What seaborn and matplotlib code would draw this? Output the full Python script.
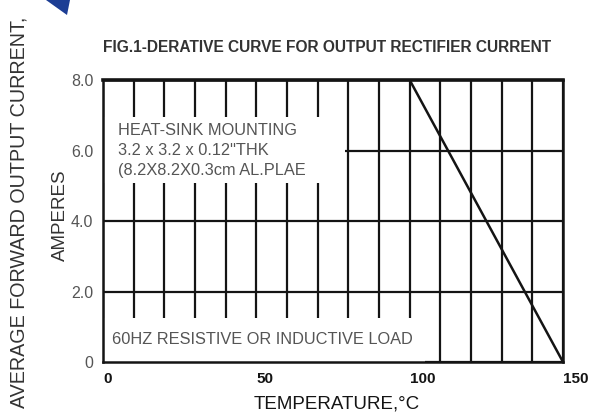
import numpy as np
import pandas as pd
import matplotlib
matplotlib.use("Agg")
import matplotlib.pyplot as plt
import seaborn as sns
from matplotlib.patches import Rectangle, Polygon
from matplotlib.ticker import MultipleLocator

# derating curve data
temperature = [0, 100, 150]
current = [8.0, 8.0, 0.0]
x_ticks = [0, 50, 100, 150]
x_tick_labels = ["0", "50", "100", "150"]
y_ticks = [0, 2, 4, 6, 8]
y_tick_labels = ["0", "2.0", "4.0", "6.0", "8.0"]

title = "FIG.1-DERATIVE CURVE FOR OUTPUT RECTIFIER CURRENT"
note_top = "HEAT-SINK MOUNTING\n3.2 x 3.2 x 0.12\"THK\n(8.2X8.2X0.3cm AL.PLAE"
note_bottom = "60HZ RESISTIVE OR INDUCTIVE LOAD"

sns.set_style("white")
plt.rcParams['font.family'] = ['Liberation Sans', 'DejaVu Sans']

ink = "#141414"
gray = "#555555"

fig = plt.figure(figsize=(5.91, 4.19), dpi=100)
ax = fig.add_axes([103 / 591, 1 - 362 / 419, 460 / 591, 282 / 419])

df = pd.DataFrame({"temp": temperature, "amps": current})
sns.lineplot(data=df, x="temp", y="amps", sort=False, color=ink, lw=1.8, ax=ax, zorder=3)

ax.set_xlim(0, 150)
ax.set_ylim(0, 8)
ax.set_xticks(x_ticks)
ax.set_xticklabels(x_tick_labels, ha="left", fontsize=11, fontweight="bold", color=ink)
ax.xaxis.set_minor_locator(MultipleLocator(10))
ax.set_yticks(y_ticks)
ax.set_yticklabels(y_tick_labels, fontsize=11.5, color=gray)
ax.tick_params(axis="x", which="both", length=0, pad=7)
ax.tick_params(axis="y", length=5, width=1.6, color=ink, pad=2)
ax.grid(True, which="both", axis="x", color=ink, lw=1.6)
ax.grid(True, which="major", axis="y", color=ink, lw=1.6)
ax.set_axisbelow(True)

for side in ["left", "right", "bottom", "top"]:
    ax.spines[side].set_visible(True)
    ax.spines[side].set_color(ink)
    ax.spines[side].set_linewidth(1.8)
ax.spines["top"].set_linewidth(2.6)

# blank areas behind the notes
ax.add_patch(Rectangle((0, 5.08), 79, 1.87, facecolor="white", edgecolor="none", zorder=1))
ax.add_patch(Rectangle((0, 0), 105, 1.25, facecolor="white", edgecolor="none", zorder=1))

ax.text(5, 6.0, note_top, fontsize=11.8, color=gray, va="center", ha="left",
        linespacing=1.45, zorder=4)
ax.text(3, 0.65, note_bottom, fontsize=11.8, color=gray, va="center", ha="left", zorder=4)

ax.set_xlabel("")
ax.set_ylabel("")
fig.text(337 / 591, 1 - 404 / 419, "TEMPERATURE,°C", fontsize=13.5, color=ink,
         ha="center", va="center")
fig.text(327 / 591, 1 - 48 / 419, title, fontsize=11.2, fontweight="bold", color="#333333",
         ha="center", va="center")
fig.text(19 / 591, 1 - 212 / 419, "AVERAGE FORWARD OUTPUT CURRENT,", fontsize=14.2,
         color="#333333", rotation=90, ha="center", va="center")
fig.text(60 / 591, 1 - 215 / 419, "AMPERES", fontsize=13.5, color="#333333",
         rotation=90, ha="center", va="center")

# corner of the logo
fig.patches.append(Polygon([(46, 419), (70, 419), (67, 404)], closed=True,
                           transform=None, facecolor="#1c3d94", edgecolor="none"))

fig.savefig("out.png", dpi=100)
